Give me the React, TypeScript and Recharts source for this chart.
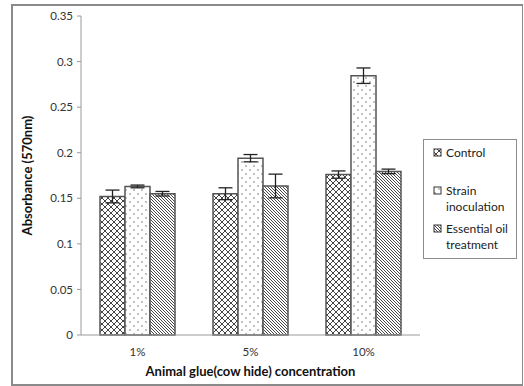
import {
  BarChart,
  Bar,
  XAxis,
  YAxis,
  ErrorBar,
  Legend,
  Label
} from "recharts";

const categories = ["1%", "5%", "10%"];
const controlValues = [0.152, 0.155, 0.176];
const controlErrors = [0.007, 0.0065, 0.004];
const strainValues = [0.163, 0.194, 0.2845];
const strainErrors = [0.0015, 0.004, 0.0085];
const oilValues = [0.155, 0.1635, 0.1795];
const oilErrors = [0.0025, 0.013, 0.0025];
const yTicks = [0, 0.05, 0.1, 0.15, 0.2, 0.25, 0.3, 0.35];
const edgeTicks = [0, 1, 2, 3];

const data = categories.map((c, i) => ({
  cat: c,
  idx: i + 0.5,
  control: controlValues[i],
  controlErr: controlErrors[i],
  strain: strainValues[i],
  strainErr: strainErrors[i],
  oil: oilValues[i],
  oilErr: oilErrors[i]
}));

const font = "Lato, 'Open Sans', sans-serif";

const legendItems = [
  { key: "control", lines: ["Control"], fill: "url(#patCross)" },
  { key: "strain", lines: ["Strain", "inoculation"], fill: "url(#patDots)" },
  { key: "oil", lines: ["Essential oil", "treatment"], fill: "url(#patDiag)" }
];

const renderLegend = () => (
  <div
    style={{
      border: "1px solid #8c8c8c",
      background: "#fff",
      width: 94,
      height: 120,
      boxSizing: "border-box",
      padding: "5px 0 0 9px",
      fontFamily: font,
      fontSize: 12,
      color: "#222",
      lineHeight: "16px"
    }}
  >
    {legendItems.map((it, i) => (
      <div key={it.key} style={{ display: "flex", marginBottom: i === 0 ? 22 : 6 }}>
        <svg width={10} height={16} style={{ flexShrink: 0, marginRight: 3 }}>
          <rect x={1} y={4} width={7} height={7} fill={it.fill} stroke="#333" strokeWidth={1} />
        </svg>
        <div>
          {it.lines.map((l) => (
            <div key={l}>{l}</div>
          ))}
        </div>
      </div>
    ))}
  </div>
);

export default function App() {
  return (
    <div style={{ position: "absolute", left: 0, top: 0, width: 524, height: 386, background: "#fff" }}>
      <svg width={0} height={0} style={{ position: "absolute" }}>
        <defs>
          <pattern id="patCross" patternUnits="userSpaceOnUse" width={6} height={6}>
            <rect width={6} height={6} fill="#fff" />
            <path d="M0,0 L6,6 M6,0 L0,6" stroke="#444" strokeWidth={1} />
          </pattern>
          <pattern id="patDots" patternUnits="userSpaceOnUse" width={8} height={8}>
            <rect width={8} height={8} fill="#fff" />
            <circle cx={2} cy={2} r={0.7} fill="#555" />
            <circle cx={6} cy={6} r={0.7} fill="#555" />
          </pattern>
          <pattern id="patDiag" patternUnits="userSpaceOnUse" width={3} height={3}>
            <rect width={3} height={3} fill="#fff" />
            <path d="M-1,-1 L4,4 M-1,2 L1,4 M2,-1 L4,1" stroke="#333" strokeWidth={0.9} />
          </pattern>
        </defs>
      </svg>
      <div
        style={{
          position: "absolute",
          left: 11,
          top: 4,
          width: 509,
          height: 378,
          border: "2px solid #8a8a8a",
          borderRightWidth: 1
        }}
      />
      <div style={{ position: "absolute", left: 0, top: 0 }}>
        <BarChart
          width={524}
          height={386}
          data={data}
          barGap={0}
          barSize={25}
          margin={{ top: 16, right: 104, left: 0, bottom: 0 }}
        >
          <XAxis
            xAxisId="edge"
            type="number"
            dataKey="idx"
            domain={[0, 3]}
            ticks={edgeTicks}
            tick={false}
            tickSize={5}
            axisLine={false}
            stroke="#9a9a9a"
            height={0}
          />
          <XAxis
            dataKey="cat"
            height={51}
            tickLine={false}
            stroke="#9a9a9a"
            tick={{ fill: "#333", fontSize: 11.5, fontFamily: font }}
            tickMargin={7}
          >
            <Label
              value="Animal glue(cow hide) concentration"
              position="insideTop"
              offset={32}
              style={{ fill: "#111", fontSize: 13, fontWeight: "bold", fontFamily: font }}
            />
          </XAxis>
          <YAxis
            width={81}
            domain={[0, 0.35]}
            ticks={yTicks}
            tickSize={4}
            stroke="#9a9a9a"
            tick={{ fill: "#333", fontSize: 11.5, fontFamily: font }}
            tickMargin={4}
          >
            <Label
              value="Absorbance (570nm)"
              angle={-90}
              position="insideLeft"
              offset={27}
              style={{ fill: "#111", fontSize: 13, fontWeight: "bold", fontFamily: font, textAnchor: "middle" }}
            />
          </YAxis>
          <Legend
            layout="horizontal"
            verticalAlign="middle"
            align="center"
            content={renderLegend}
            wrapperStyle={{ left: 423, top: 139, width: 94 }}
          />
          <Bar dataKey="control" name="Control" fill="url(#patCross)" stroke="#555" strokeWidth={1.5} isAnimationActive={false}>
            <ErrorBar dataKey="controlErr" width={7} stroke="#222" strokeWidth={1.3} isAnimationActive={false} />
          </Bar>
          <Bar dataKey="strain" name="Strain inoculation" fill="url(#patDots)" stroke="#555" strokeWidth={1.5} isAnimationActive={false}>
            <ErrorBar dataKey="strainErr" width={7} stroke="#222" strokeWidth={1.3} isAnimationActive={false} />
          </Bar>
          <Bar dataKey="oil" name="Essential oil treatment" fill="url(#patDiag)" stroke="#555" strokeWidth={1.5} isAnimationActive={false}>
            <ErrorBar dataKey="oilErr" width={7} stroke="#222" strokeWidth={1.3} isAnimationActive={false} />
          </Bar>
        </BarChart>
      </div>
    </div>
  );
}
